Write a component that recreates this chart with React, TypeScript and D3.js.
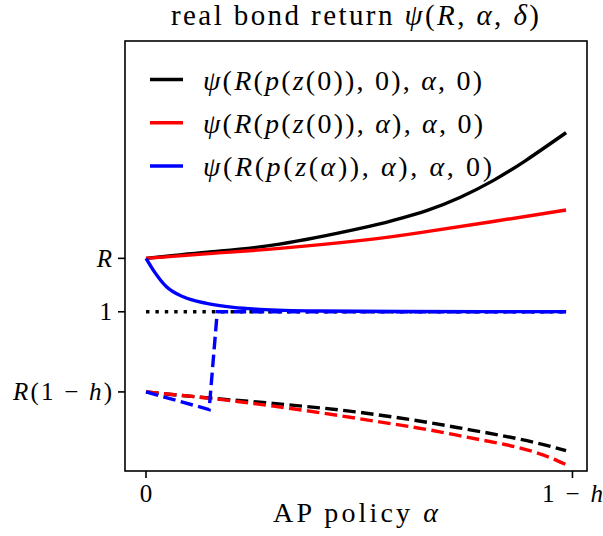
import * as d3 from "d3";
import { useEffect, useRef } from "react";

// alpha in units of (1 - h)
const alphaTop = [0, 0.156, 0.313, 0.502, 0.58, 0.658, 0.736, 0.814, 0.892, 0.985];
const blackSolid = [1.1, 1.1124, 1.1265, 1.156, 1.1712, 1.1895, 1.214, 1.2455, 1.284, 1.3352];
const alphaRed = [0, 0.156, 0.313, 0.516, 0.658, 0.814, 0.985];
const redSolid = [1.1, 1.1094, 1.1187, 1.1345, 1.15, 1.169, 1.1904];

const alphaBlue = [0, 0.017, 0.048, 0.087, 0.142, 0.205, 0.267, 0.4, 0.6, 0.8, 0.985];
const blueSolid = [1.1, 1.078, 1.0468, 1.028, 1.0157, 1.0082, 1.0045, 1.0015, 1.0005, 1.0003, 1.0002];

const alphaLow = [0, 0.156, 0.299, 0.502, 0.729, 0.963, 0.985];
const blackDashed = [0.85, 0.838, 0.8285, 0.8116, 0.7835, 0.745, 0.74];
const redDashed = [0.85, 0.8375, 0.8234, 0.7996, 0.769, 0.722, 0.714];

const alphaBlueDashed = [0, 0.148, 0.167, 0.4, 0.7, 0.985];
const blueDashed = [0.85, 0.817, 1.0, 1.0, 1.0, 1.0];

const alphaDotted = [0, 0.985];
const blackDotted = [1.0, 1.0];

const yTicks = [
  { v: 1.1, parts: [["R", true]], len: 0 },
  { v: 1.0, parts: [["1", false]], len: 0 },
  { v: 0.85, parts: [["R", true], ["(1 − ", false], ["h", true], [")", false]], len: 99 },
];
const xTicks = [
  { v: 0, parts: [["0", false]], len: 0 },
  { v: 1, parts: [["1 − ", false], ["h", true]], len: 61 },
];

const legendLabels = [
  [["ψ", true], ["(", false], ["R", true], ["(", false], ["p", true], ["(", false], ["z", true], ["(0)), 0), ", false], ["α", true], [", 0)", false]],
  [["ψ", true], ["(", false], ["R", true], ["(", false], ["p", true], ["(", false], ["z", true], ["(0)), ", false], ["α", true], ["), ", false], ["α", true], [", 0)", false]],
  [["ψ", true], ["(", false], ["R", true], ["(", false], ["p", true], ["(", false], ["z", true], ["(", false], ["α", true], [")), ", false], ["α", true], ["), ", false], ["α", true], [", 0)", false]],
];
const legendWidths = [279, 280, 289];
const legendColors = ["#000000", "#ff0000", "#0000ff"];

const FONT = "'Liberation Serif', 'DejaVu Serif', serif";

function addRich(sel: any, parts: any[], len = 0) {
  parts.forEach(([t, it]: any) => {
    sel.append("tspan").attr("font-style", it ? "italic" : "normal").text(t);
  });
  if (len > 0) sel.attr("textLength", len).attr("lengthAdjust", "spacing");
}

export default function App() {
  const svgRef = useRef<SVGSVGElement | null>(null);

  useEffect(() => {
    const width = 603;
    const height = 536;
    const margin = { top: 41, right: 16, bottom: 65, left: 125 };

    const svg = d3.select(svgRef.current);
    svg.selectAll("*").remove();
    svg.attr("width", width).attr("height", height);

    const x = d3.scaleLinear().domain([-0.0493, 1.0341]).range([margin.left, width - margin.right]);
    const y = d3.scaleLinear().domain([0.702, 1.5068]).range([height - margin.bottom, margin.top]);

    const curved = (xs: number[], ys: number[], curve: any) =>
      d3
        .line<number>()
        .x((_, i) => x(xs[i]))
        .y((d) => y(d))
        .curve(curve)(ys);

    const lw = 3.4;
    const dash = "12.6,5.4";
    const series = [
      { xs: alphaDotted, ys: blackDotted, c: "#000000", dash: "3.4,6", curve: d3.curveLinear },
      { xs: alphaTop, ys: blackSolid, c: "#000000", dash: null, curve: d3.curveNatural },
      { xs: alphaRed, ys: redSolid, c: "#ff0000", dash: null, curve: d3.curveNatural },
      { xs: alphaBlue, ys: blueSolid, c: "#0000ff", dash: null, curve: d3.curveMonotoneX },
      { xs: alphaLow, ys: blackDashed, c: "#000000", dash, curve: d3.curveMonotoneX },
      { xs: alphaLow, ys: redDashed, c: "#ff0000", dash, curve: d3.curveMonotoneX },
      { xs: alphaBlueDashed, ys: blueDashed, c: "#0000ff", dash, curve: d3.curveLinear },
    ];
    const g = svg.append("g");
    series.forEach((s) => {
      g.append("path")
        .attr("d", curved(s.xs, s.ys, s.curve))
        .attr("stroke", s.c)
        .attr("stroke-width", lw)
        .attr("stroke-dasharray", s.dash)
        .attr("fill", "none");
    });

    // frame
    svg
      .append("rect")
      .attr("x", margin.left)
      .attr("y", margin.top)
      .attr("width", width - margin.left - margin.right)
      .attr("height", height - margin.top - margin.bottom)
      .attr("fill", "none")
      .attr("stroke", "#000")
      .attr("stroke-width", 1.6);

    // y ticks
    yTicks.forEach((t) => {
      svg.append("line").attr("x1", margin.left - 7).attr("x2", margin.left).attr("y1", y(t.v)).attr("y2", y(t.v)).attr("stroke", "#000").attr("stroke-width", 1.6);
      const tx = svg
        .append("text")
        .attr("x", 112)
        .attr("y", y(t.v) + 8.3)
        .attr("text-anchor", "end")
        .attr("font-family", FONT)
        .attr("font-size", 25);
      addRich(tx, t.parts, t.len);
    });

    // x ticks
    xTicks.forEach((t) => {
      const px = x(t.v);
      svg.append("line").attr("x1", px).attr("x2", px).attr("y1", height - margin.bottom).attr("y2", height - margin.bottom + 7).attr("stroke", "#000").attr("stroke-width", 1.6);
      const tx = svg
        .append("text")
        .attr("x", px)
        .attr("y", 502)
        .attr("text-anchor", "middle")
        .attr("font-family", FONT)
        .attr("font-size", 25);
      addRich(tx, t.parts, t.len);
    });

    // x label
    const xl = svg.append("text").attr("x", 355.5).attr("y", 522).attr("text-anchor", "middle").attr("font-family", FONT).attr("font-size", 28);
    addRich(xl, [["AP policy ", false], ["α", true]], 165);

    // title
    const tt = svg.append("text").attr("x", 355).attr("y", 25).attr("text-anchor", "middle").attr("font-family", FONT).attr("font-size", 29);
    addRich(tt, [["real bond return ", false], ["ψ", true], ["(", false], ["R", true], [", ", false], ["α", true], [", ", false], ["δ", true], [")", false]], 368);

    // legend
    const rows = [79.5, 122.7, 166];
    legendLabels.forEach((parts, i) => {
      svg.append("line").attr("x1", 150).attr("x2", 183).attr("y1", rows[i]).attr("y2", rows[i]).attr("stroke", legendColors[i]).attr("stroke-width", lw);
      const tx = svg
        .append("text")
        .attr("x", 203)
        .attr("y", rows[i] + 10.2)
        .attr("font-family", FONT)
        .attr("font-size", 28);
      addRich(tx, parts, legendWidths[i]);
    });
  }, []);

  return (
    <div>
      <svg ref={svgRef} style={{ position: "absolute", left: 0, top: 0 }}></svg>
    </div>
  );
}
